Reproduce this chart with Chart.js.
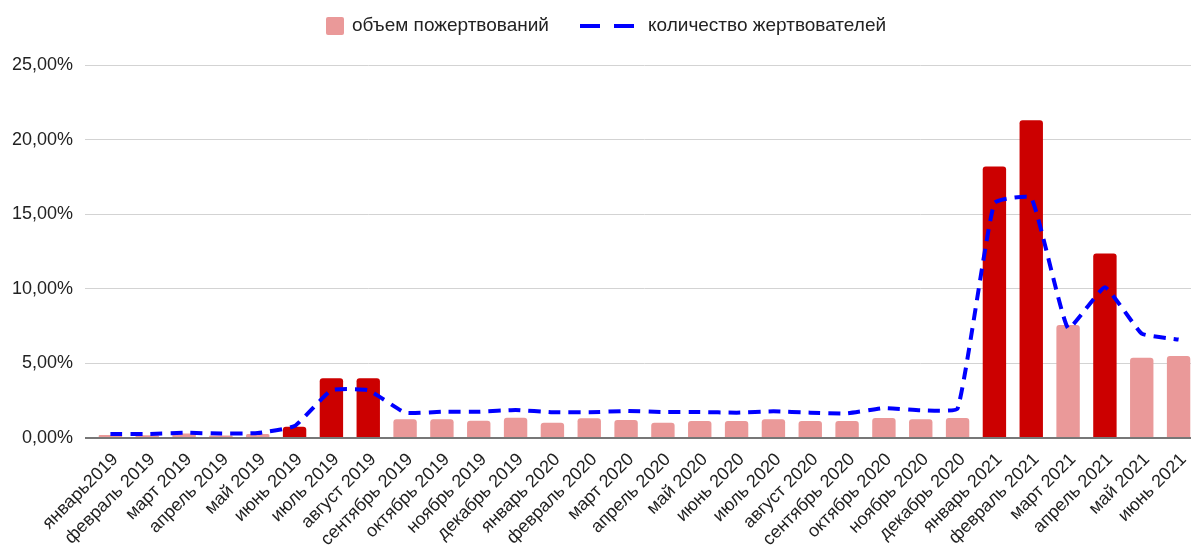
<!DOCTYPE html>
<html>
<head>
<meta charset="utf-8">
<script src="https://cdn.jsdelivr.net/npm/chart.js@4.4.1/dist/chart.umd.min.js"></script>
<style>
	html, body { margin:0; padding:0; background:#fff; overflow:hidden; }
	#wrap { position:relative; width:1191px; height:546px; overflow:hidden; }
	#grafico { position:absolute; left:0; top:0; }
	.legenda { position:absolute; top:14px; font-family:"Liberation Sans", Arial, sans-serif; font-size:19px; color:#222; white-space:nowrap; }
	.box { position:absolute; top:17px; left:326px; width:18px; height:18px; background:#ea9999; border-radius:2px; }
	.dash { position:absolute; top:24px; width:20px; height:4px; background:#0000ff; }
</style>
</head>
<body>
<div id="wrap">
	<canvas id="grafico" width="1197" height="546"></canvas>
	<div class="box"></div>
	<div class="legenda" style="left:352px">объем пожертвований</div>
	<div class="dash" style="left:580px"></div>
	<div class="dash" style="left:614px"></div>
	<div class="legenda" style="left:648px">количество жертвователей</div>
</div>
<script>
// mesi (categorie)
const mesi = [
	"январь2019", "февраль 2019", "март 2019", "апрель 2019", "май 2019", "июнь 2019",
	"июль 2019", "август 2019", "сентябрь 2019", "октябрь 2019", "ноябрь 2019", "декабрь 2019",
	"январь 2020", "февраль 2020", "март 2020", "апрель 2020", "май 2020", "июнь 2020",
	"июль 2020", "август 2020", "сентябрь 2020", "октябрь 2020", "ноябрь 2020", "декабрь 2020",
	"январь 2021", "февраль 2021", "март 2021", "апрель 2021", "май 2021", "июнь 2021"
];
// объем пожертвований, %
const volume = [
	0.2, 0.18, 0.3, 0.17, 0.27, 0.75,
	4.0, 4.0, 1.25, 1.25, 1.15, 1.35,
	1.03, 1.32, 1.2, 1.03, 1.14, 1.14,
	1.25, 1.14, 1.14, 1.34, 1.25, 1.34,
	18.2, 21.3, 7.57, 12.37, 5.38, 5.49
];
// количество жертвователей, %
const donatori = [
	0.27, 0.27, 0.35, 0.3, 0.33, 0.8,
	3.2, 3.2, 1.7, 1.76, 1.76, 1.88,
	1.73, 1.72, 1.81, 1.74, 1.74, 1.7,
	1.79, 1.7, 1.65, 2.0, 1.86, 1.98,
	15.75, 16.1, 7.35, 10.1, 7.0, 6.6
];
// mesi evidenziati in rosso scuro
const evidenziati = ["июнь 2019", "июль 2019", "август 2019", "январь 2021", "февраль 2021", "апрель 2021"];
const yTicks = [0, 5, 10, 15, 20, 25];

const FONT = '"Liberation Sans", Arial, sans-serif';
const colori = mesi.map(m => evidenziati.includes(m) ? '#cc0000' : '#ea9999');

function percento(v){
	return v.toFixed(2).replace('.', ',') + '%';
}

const ctx = document.getElementById('grafico').getContext('2d');
new Chart(ctx, {
	data: {
		labels: mesi,
		datasets: [
			{
				type: 'line',
				label: 'количество жертвователей',
				data: donatori,
				borderColor: '#0000ff',
				borderWidth: 4,
				borderDash: [12, 8],
				pointRadius: 0,
				tension: 0.12,
				fill: false,
				order: 0
			},
			{
				type: 'bar',
				label: 'объем пожертвований',
				data: volume,
				backgroundColor: colori,
				borderRadius: 3,
				barPercentage: 0.635,
				categoryPercentage: 1,
				order: 1
			}
		]
	},
	options: {
		responsive: false,
		animation: false,
		layout: { padding: { top: 65, left: 0, right: 0, bottom: 0 } },
		plugins: {
			legend: { display: false },
			tooltip: { enabled: false }
		},
		scales: {
			x: {
				grid: { display: false },
				border: { display: false },
				ticks: {
					autoSkip: false,
					maxRotation: 45,
					minRotation: 45,
					padding: 3,
					labelOffset: 5,
					color: '#222',
					font: { family: FONT, size: 18 }
				},
				afterFit: function(scale){ scale.height = 108; }
			},
			y: {
				min: 0,
				max: 25,
				afterBuildTicks: function(scale){ scale.ticks = yTicks.map(v => ({ value: v })); },
				border: { display: false },
				grid: {
					color: function(c){ return c.tick && c.tick.value === 0 ? '#777' : '#d3d3d3'; },
					lineWidth: function(c){ return c.tick && c.tick.value === 0 ? 2 : 1; },
					drawTicks: true,
					tickLength: 7
				},
				ticks: {
					padding: 12,
					color: '#222',
					font: { family: FONT, size: 18 },
					callback: function(v){ return percento(v); }
				},
				afterFit: function(scale){ scale.width = 92; }
			}
		}
	}
});
</script>
</body>
</html>
